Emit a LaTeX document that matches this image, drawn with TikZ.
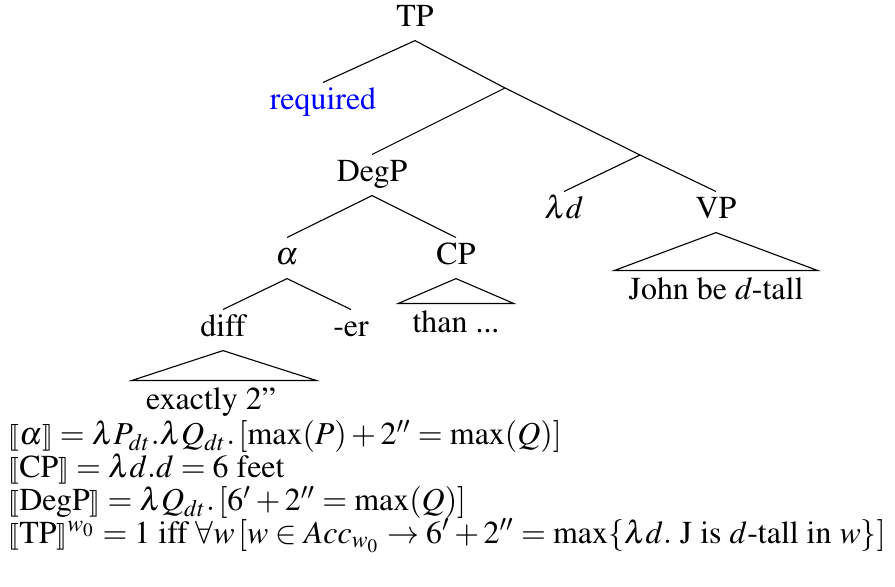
\documentclass[tikz,border=0pt]{standalone}
\usepackage{amsmath}
\usepackage[T1]{fontenc}
\usepackage{mathptmx}
\usepackage{stmaryrd}
\usepackage{graphicx}
\usepackage{tikz}

\newcommand{\den}[1]{\mathopen{\scalebox{.8}{$\llbracket$}}#1\mathclose{\scalebox{.8}{$\rrbracket$}}}

\begin{document}
\begin{tikzpicture}[
    x=0.36pt, y=-0.36pt,
    font=\fontsize{11.5}{14}\selectfont,
    lab/.style={inner xsep=0pt, inner ysep=2.7pt, text height=7pt, text depth=2pt, anchor=base},
    roof/.style={lab, inner xsep=5pt, inner ysep=3.4pt},
    eq/.style={inner sep=0pt, anchor=base west}
]
\useasboundingbox (0,0) rectangle (895,587);

% tree labels
\node[lab] (tp) at (415,27) {TP};
\node[lab, text=blue] (req) at (323,110) {required};
\node[lab] (degp) at (372,182) {DegP};
\node[lab] (lamd) at (564,219) {$\lambda d$};
\node[lab] (vp) at (716,219) {VP};
\node[lab] (alpha) at (287,265) {$\alpha$};
\node[lab] (cp) at (456,265) {CP};
\node[lab] (diff) at (223,337) {diff};
\node[lab] (er) at (351,337) {-er};
\node[roof] (than) at (456,333) {than ...};
\node[roof] (john) at (716,300) {John be \textit{d}-tall};
\node[roof] (exactly) at (211,410) {exactly 2''};

% empty branching points
\coordinate (x1) at (505,88);
\coordinate (x2) at (640,155);

\draw (tp.south) -- (req.north);
\draw (tp.south) -- (x1);
\draw (x1) -- (degp.north);
\draw (x1) -- (x2);
\draw (x2) -- (lamd.north);
\draw (x2) -- (vp.north);
\draw (degp.south) -- (alpha.north);
\draw (degp.south) -- (cp.north);
\draw (alpha.south) -- (diff.north);
\draw (alpha.south) -- (er.north);

% roofs
\draw (cp.south) -- (than.north west) -- (than.north east) -- cycle;
\draw (vp.south) -- (john.north west) -- (john.north east) -- cycle;
\draw (diff.south) -- (exactly.north west) -- ([xshift=9.4pt]exactly.north east) -- cycle;

% denotations
\node[eq] (eq1) at (8,445) {$\den{\alpha}=\lambda P_{dt}.\lambda Q_{dt}.\,[\max(P)+2''=\max(Q)]$};
\node[eq] (eq2) at (8,478) {$\den{\text{CP}}=\lambda d.d=6\text{ feet}$};
\node[eq] (eq3) at (8,511) {$\den{\text{DegP}}=\lambda Q_{dt}.\,[6'+2''=\max(Q)]$};
\node[eq] (eq4) at (8,543) {$\den{\text{TP}}^{w_0}=1\text{ iff }\forall w\,[w\in Acc_{w_0}\to 6'+2''=\max\{\lambda d.\text{ J is }d\text{-tall in }w\}]$};
\end{tikzpicture}
\end{document}
